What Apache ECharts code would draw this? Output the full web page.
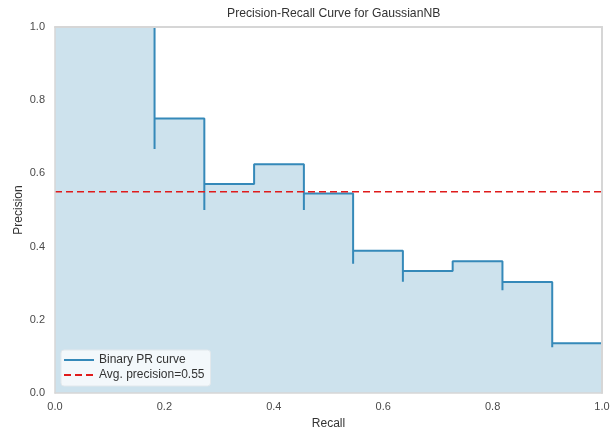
<!DOCTYPE html>
<html>
<head>
<meta charset="utf-8">
<title>Precision-Recall Curve for GaussianNB</title>
<script src="https://cdn.jsdelivr.net/npm/echarts@6/dist/echarts.min.js"></script>
<style>
  html, body { margin: 0; padding: 0; background: #ffffff; }
  #chart { width: 611px; height: 432px; }
</style>
</head>
<body>
<div id="chart"></div>
<script>
// Precision/recall pairs in threshold order (recall decreasing), drawn as a post-step curve
const recall = [1.0, 0.909, 0.909, 0.818, 0.818, 0.727, 0.636, 0.636, 0.545, 0.545,
                0.455, 0.455, 0.364, 0.273, 0.273, 0.182, 0.182, 0.0];
const precision = [0.136, 0.125, 0.303, 0.281, 0.36, 0.333, 0.304, 0.389, 0.353, 0.545,
                   0.5, 0.625, 0.571, 0.5, 0.75, 0.667, 1.0, 1.0];
const avgPrecision = 0.55;
const axisTicks = [0.0, 0.2, 0.4, 0.6, 0.8, 1.0];

const FONT = '"Liberation Sans", Arial, "DejaVu Sans", sans-serif';
const curveName = 'Binary PR curve';
const avgName = 'Avg. precision=' + avgPrecision.toFixed(2);

const curveData = recall.map((r, i) => [r, precision[i]]);
const avgData = [[axisTicks[0], avgPrecision], [axisTicks[axisTicks.length - 1], avgPrecision]];

const chart = echarts.init(document.getElementById('chart'), null, { renderer: 'canvas' });

const SPINE = '#d6d6d6';
const axisRange = {
  type: 'value',
  min: axisTicks[0],
  max: axisTicks[axisTicks.length - 1],
  interval: axisTicks[1] - axisTicks[0]
};
const labelStyle = {
  color: '#4a4a4a',
  fontFamily: FONT,
  fontSize: 11,
  formatter: v => v.toFixed(1)
};
const nameStyle = { color: '#333333', fontFamily: FONT, fontSize: 12 };

// Main axes carry labels; the mirrored axes only draw the top/right frame above the curve
const mainAxis = (name, gap, margin) => Object.assign({}, axisRange, {
  name: name,
  nameLocation: 'middle',
  nameGap: gap,
  nameMoveOverlap: false,
  nameTextStyle: nameStyle,
  axisLine: { show: true, lineStyle: { color: SPINE, width: 1.5 } },
  axisTick: { show: false },
  splitLine: { show: false },
  axisLabel: Object.assign({}, labelStyle, { margin: margin }),
  z: 10
});
const frameAxis = (position) => Object.assign({}, axisRange, {
  position: position,
  axisLine: { show: true, onZero: false, lineStyle: { color: SPINE, width: 2 } },
  axisTick: { show: false },
  splitLine: { show: false },
  axisLabel: { show: false },
  z: 10
});

chart.setOption({
  animation: false,
  backgroundColor: '#ffffff',
  title: {
    text: 'Precision-Recall Curve for GaussianNB',
    left: 222,
    top: 3,
    textStyle: { color: '#333333', fontFamily: FONT, fontSize: 12.2, fontWeight: 'normal' }
  },
  grid: {
    left: 55, right: 9, top: 27, bottom: 39,
    outerBoundsMode: 'none',
    containLabel: false,
    show: false
  },
  xAxis: [
    Object.assign(mainAxis('Recall', 25, 8), { position: 'bottom' }),
    frameAxis('top')
  ],
  yAxis: [
    Object.assign(mainAxis('Precision', 30, 10), { position: 'left' }),
    frameAxis('right')
  ],
  legend: {
    orient: 'vertical',
    left: 61,
    bottom: 46,
    itemWidth: 30,
    itemHeight: 10,
    itemGap: 3,
    padding: [4, 6, 5, 2],
    backgroundColor: 'rgba(255,255,255,0.75)',
    borderColor: '#e2e8ec',
    borderWidth: 1,
    borderRadius: 3,
    itemStyle: { opacity: 0 },
    textStyle: { color: '#333333', fontFamily: FONT, fontSize: 12 },
    data: [curveName, avgName]
  },
  series: [
    {
      name: curveName,
      type: 'line',
      data: curveData,
      step: 'end',
      symbol: 'none',
      lineStyle: { color: '#3589b9', width: 2 },
      itemStyle: { color: '#3589b9' },
      areaStyle: { color: '#cde2ed', opacity: 1 },
      z: 2
    },
    {
      name: avgName,
      type: 'line',
      data: avgData,
      symbol: 'none',
      lineStyle: { color: '#e01b1b', width: 1.6, type: [7, 4] },
      itemStyle: { color: '#e01b1b' },
      z: 3
    }
  ]
});
</script>
</body>
</html>
